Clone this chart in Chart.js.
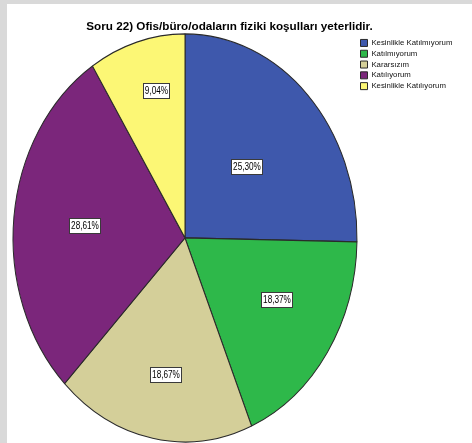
<!DOCTYPE html>
<html><head><meta charset="utf-8">
<script src="https://cdn.jsdelivr.net/npm/chart.js@4.4.1/dist/chart.umd.min.js"></script>
<style>
html,body{margin:0;padding:0;overflow:hidden;background:#d9d9d9;width:472px;height:443px}
#wrap{position:absolute;left:7px;top:4px;width:465px;height:441px;background:#fff}
canvas{display:block}
</style></head><body>
<div id="wrap"><canvas id="c" width="465" height="441"></canvas></div>
<script>
const chartTitle = 'Soru 22) Ofis/büro/odaların fiziki koşulları yeterlidir.';
const categories = ['Kesinlikle Katılmıyorum', 'Katılmıyorum', 'Kararsızım', 'Katılıyorum', 'Kesinlikle Katılıyorum'];
const percentages = [25.30, 18.37, 18.67, 28.61, 9.04];
const sliceColors = ['#3e58ac', '#2eb84a', '#d4cf99', '#7b267b', '#fcf775'];
// label placement (fraction of radius, angle shift in degrees from slice middle)
const labelRadius = [0.50, 0.61, 0.68, 0.59, 0.74];
const labelAngleShift = [0, -4.5, -1.4, 0, 3.3];
const Y_STRETCH = 204 / 172;

const ellipseAndLabels = {
  id: 'ellipseAndLabels',
  afterLayout(chart) {
    const lg = chart.legend;
    if (lg) { lg.right = chart.width; lg.width = lg.right - lg.left; }
  },
  beforeDatasetsDraw(chart) {
    const a = chart.getDatasetMeta(0).data[0];
    const ctx = chart.ctx;
    ctx.save();
    if (!a) return;
    ctx.translate(a.x, a.y);
    ctx.scale(1, Y_STRETCH);
    ctx.translate(-a.x, -a.y);
  },
  afterDatasetsDraw(chart) {
    const ctx = chart.ctx;
    ctx.restore();
    const meta = chart.getDatasetMeta(0);
    ctx.save();
    ctx.font = '10px "Liberation Sans", Arial, sans-serif';
    ctx.textAlign = 'center';
    ctx.textBaseline = 'middle';
    const sx = 0.82;
    meta.data.forEach((arc, i) => {
      const p = arc.getProps(['x', 'y', 'startAngle', 'endAngle', 'outerRadius'], true);
      const mid = (p.startAngle + p.endAngle) / 2 + labelAngleShift[i] * Math.PI / 180;
      const r = p.outerRadius * labelRadius[i];
      const px = p.x + Math.cos(mid) * r;
      const py = p.y + Math.sin(mid) * r * Y_STRETCH;
      const text = percentages[i].toFixed(2).replace('.', ',') + '%';
      const w = Math.round(ctx.measureText(text).width * sx + 3);
      const h = 15;
      const bx = Math.round(px - w / 2) + 0.5, by = Math.round(py - h / 2) + 0.5;
      ctx.fillStyle = '#ffffff';
      ctx.fillRect(bx, by, w, h);
      ctx.strokeStyle = '#3a3a3a';
      ctx.lineWidth = 1;
      ctx.strokeRect(bx, by, w, h);
      ctx.save();
      ctx.translate(bx + w / 2, by + h / 2 + 0.5);
      ctx.scale(sx, 1);
      ctx.fillStyle = '#000000';
      ctx.fillText(text, 0, 0);
      ctx.restore();
    });
    ctx.restore();
  }
};

new Chart(document.getElementById('c'), {
  type: 'pie',
  data: {
    labels: categories,
    datasets: [{
      data: percentages,
      backgroundColor: sliceColors,
      borderColor: '#2a2a2a',
      borderWidth: 1
    }]
  },
  options: {
    responsive: false,
    animation: false,
    layout: { padding: { left: 5.5, right: 25.5, top: 0, bottom: 3.2 } },
    plugins: {
      title: {
        display: true,
        text: chartTitle,
        color: '#000',
        font: { family: '"Liberation Sans", Arial, sans-serif', size: 11.7, weight: 'bold', lineHeight: 1.2 },
        padding: { top: 16, bottom: 0 }
      },
      legend: {
        position: 'right',
        align: 'start',
        fullSize: false,
        maxWidth: 89,
        title: { display: true, text: '', padding: 0, font: { size: 2, lineHeight: 1 } },
        labels: {
          boxWidth: 7,
          boxHeight: 7,
          padding: 3,
          color: '#111',
          font: { family: '"Liberation Sans", Arial, sans-serif', size: 7.8 }
        }
      },
      tooltip: { enabled: false }
    }
  },
  plugins: [ellipseAndLabels]
});
</script>
</body></html>
